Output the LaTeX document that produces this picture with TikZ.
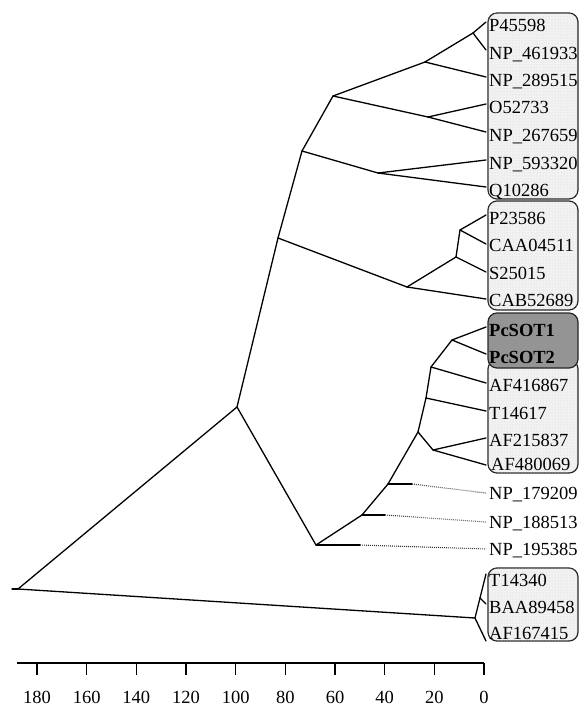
\documentclass[tikz,border=0pt]{standalone}
\usepackage{fontspec}
\setmainfont{Liberation Serif}
\usetikzlibrary{patterns}
\begin{document}
\begin{tikzpicture}[x=1pt,y=-1pt,
  br/.style={line width=1.3pt, line join=round, line cap=round},
  dotbr/.style={line width=1.1pt, dash pattern=on 0.8pt off 1.2pt, black!80},
  lab/.style={anchor=west, inner xsep=3pt, inner ysep=0pt, text height=12.2pt, text depth=0pt, font=\fontsize{18.5}{20}\selectfont},
  boldlab/.style={lab, font=\fontsize{18.5}{20}\selectfont\bfseries},
  clade/.style={draw=black!85, line width=1.2pt, rounded corners=9pt, fill=black!5},
  cladedots/.style={rounded corners=9pt, pattern=dots, pattern color=black!18},
  hiclade/.style={draw=black!85, line width=1.2pt, rounded corners=9pt, fill=black!42},
  tickmark/.style={line width=1.3pt},
  num/.style={font=\fontsize{18.5}{20}\selectfont, inner sep=0pt}
]
\useasboundingbox (0,0) rectangle (580,707);

% clade boxes
\path[clade] (488,13) rectangle (578,199);
\path[cladedots] (488,13) rectangle (578,199);
\path[clade] (488,201) rectangle (578,310);
\path[cladedots] (488,201) rectangle (578,310);
\path[clade] (488,360) rectangle (578,473);
\path[cladedots] (488,360) rectangle (578,473);
\path[hiclade] (488,313) rectangle (578,368);
\path[clade] (488,568) rectangle (578,641);
\path[cladedots] (488,568) rectangle (578,641);

% leaf labels
\node[lab] (l1) at (486,25) {P45598};
\node[lab] (l2) at (486,53) {NP\_461933};
\node[lab] (l3) at (486,80) {NP\_289515};
\node[lab] (l4) at (486,107) {O52733};
\node[lab] (l5) at (486,135) {NP\_267659};
\node[lab] (l6) at (486,163) {NP\_593320};
\node[lab] (l7) at (486,190) {Q10286};
\node[lab] (l8) at (486,218) {P23586};
\node[lab] (l9) at (486,245) {CAA04511};
\node[lab] (l10) at (486,273) {S25015};
\node[lab] (l11) at (486,300) {CAB52689};
\node[boldlab] (l12) at (486,330) {PcSOT1};
\node[boldlab] (l13) at (486,357) {PcSOT2};
\node[lab] (l14) at (486,385) {AF416867};
\node[lab] (l15) at (486,413) {T14617};
\node[lab] (l16) at (486,440) {AF215837};
\node[lab] (l17) at (488,464) {AF480069};
\node[lab] (l18) at (486,493) {NP\_179209};
\node[lab] (l19) at (486,522) {NP\_188513};
\node[lab] (l20) at (486,549) {NP\_195385};
\node[lab] (l21) at (486,580) {T14340};
\node[lab] (l22) at (486,607) {BAA89458};
\node[lab] (l23) at (486,633) {AF167415};

% internal nodes
\coordinate (stub) at (12,589);
\coordinate (r) at (18,589);
\coordinate (T) at (237,407);
\coordinate (Q) at (475,618);
\coordinate (S) at (278,238);
\coordinate (P) at (316,545);
\coordinate (D) at (302,151);
\coordinate (H) at (407,287);
\coordinate (B) at (333,96);
\coordinate (E) at (378,173);
\coordinate (A) at (425,62);
\coordinate (C) at (428,117);
\coordinate (A1) at (473,33);
\coordinate (G) at (456,257);
\coordinate (F) at (460,230);
\coordinate (O) at (362,515);
\coordinate (N) at (388,484);
\coordinate (L) at (418,432);
\coordinate (K) at (426,398);
\coordinate (M) at (433,450);
\coordinate (J) at (431,367);
\coordinate (I) at (452,340);
\coordinate (R) at (480,598);
\coordinate (Ns) at (412,484);
\coordinate (Os) at (385,515);
\coordinate (Ps) at (360,545);

% branches
\draw[br] (stub) -- (r);
\draw[br] (r) -- (T);
\draw[br] (r) -- (Q);
\draw[br] (T) -- (S);
\draw[br] (T) -- (P);
\draw[br] (S) -- (D);
\draw[br] (S) -- (H);
\draw[br] (D) -- (B);
\draw[br] (D) -- (E);
\draw[br] (B) -- (A);
\draw[br] (B) -- (C);
\draw[br] (A) -- (A1);
\draw[br] (A1) -- ([yshift=3pt]l1.west);
\draw[br] (A1) -- ([yshift=3pt]l2.west);
\draw[br] (A) -- ([yshift=3pt]l3.west);
\draw[br] (C) -- ([yshift=3pt]l4.west);
\draw[br] (C) -- ([yshift=3pt]l5.west);
\draw[br] (E) -- ([yshift=3pt]l6.west);
\draw[br] (E) -- ([yshift=3pt]l7.west);
\draw[br] (H) -- (G);
\draw[br] (G) -- (F);
\draw[br] (F) -- ([yshift=3pt]l8.west);
\draw[br] (F) -- ([yshift=1pt]l9.west);
\draw[br] (G) -- ([yshift=1pt]l10.west);
\draw[br] (H) -- ([yshift=1pt]l11.west);
\draw[br] (P) -- (O);
\draw[br] (O) -- (N);
\draw[br] (N) -- (L);
\draw[br] (L) -- (K);
\draw[br] (L) -- (M);
\draw[br] (K) -- (J);
\draw[br] (J) -- (I);
\draw[br] (I) -- ([yshift=3pt]l12.west);
\draw[br] (I) -- ([yshift=3pt]l13.west);
\draw[br] (J) -- ([yshift=2pt]l14.west);
\draw[br] (K) -- ([yshift=2pt]l15.west);
\draw[br] (M) -- ([yshift=2pt]l16.west);
\draw[br] (M) -- ([xshift=-2pt,yshift=-1pt]l17.west);
\draw[br] (N) -- (Ns);
\draw[dotbr] (Ns) -- (l18.west);
\draw[br] (O) -- (Os);
\draw[dotbr] (Os) -- (l19.west);
\draw[br] (P) -- (Ps);
\draw[dotbr] (Ps) -- (l20.west);
\draw[br] (Q) -- (R);
\draw[br] (R) -- ([yshift=6pt]l21.west);
\draw[br] (R) -- ([yshift=3pt]l22.west);
\draw[br] (Q) -- ([yshift=-8pt]l23.west);

% scale axis
\draw[tickmark] (17,663) -- (484,663);
\foreach \v [count=\i from 0] in {180,160,140,120,100,80,60,40,20,0}{
  \draw[tickmark] ({37+49.667*\i},663) -- ({37+49.667*\i},675);
  \node[num] (ax\v) at ({37+49.667*\i},697) {\v};
}
\end{tikzpicture}
\end{document}
